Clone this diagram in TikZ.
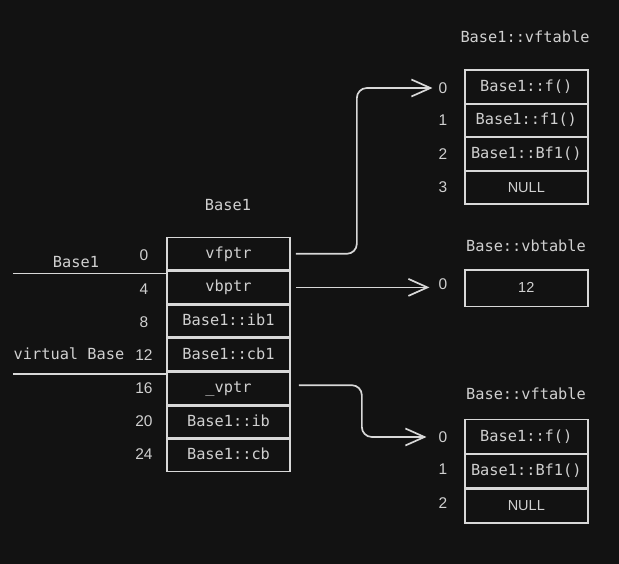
\documentclass[tikz,border=0pt]{standalone}
\usepackage{fontspec}
\setmainfont{Liberation Sans}
\newfontfamily\codefont{DejaVu Sans Mono}
\usetikzlibrary{arrows.meta}

\definecolor{bg}{HTML}{121212}
\definecolor{ink}{HTML}{D8D8D8}
\definecolor{txt}{HTML}{D0D0D0}

\tikzset{
  codetext/.style={text=txt, inner sep=0pt, font=\codefont\fontsize{15.3}{18}\selectfont},
  cell/.style={codetext, draw=ink, line width=1.7pt, minimum width=123pt,
    minimum height=#1, text height=11pt, text depth=2pt},
  cell/.default=32.3pt,
  sanscell/.style={cell=#1, font=\fontsize{14.5}{18}\selectfont},
  sanscell/.default=32.3pt,
  idx/.style={text=txt, inner sep=0pt, font=\fontsize{15.5}{18}\selectfont},
  title/.style={codetext},
  sepline/.style={draw=ink, line width=1.7pt},
  conn/.style={draw=ink, line width=1.7pt, rounded corners=10pt,
    -{Straight Barb[length=19pt, width=17pt]}}
}

\begin{document}
\begin{tikzpicture}[x=1pt, y=-1pt]
  % canvas
  \fill[bg] (0,0) rectangle (619,564);
  \useasboundingbox (0,0) rectangle (619,564);

  % ---- object layout of Base1 ----
  \node[title] (objtitle) at (228,205) {Base1};
  \node[cell] (vfptr) at (228.5,253.8) {vfptr};
  \node[cell] (vbptr) at (228.5,287.4) {vbptr};
  \node[cell] (ib1)   at (228.5,321.0) {Base1::ib1};
  \node[cell] (cb1)   at (228.5,354.6) {Base1::cb1};
  \node[cell] (vptr)  at (228.5,388.2) {\_vptr};
  \node[cell] (ib)    at (228.5,421.8) {Base1::ib};
  \node[cell] (cb)    at (228.5,455.4) {Base1::cb};

  % byte offsets
  \node[idx] (o0)  at (144,255) {0};
  \node[idx] (o4)  at (144,289) {4};
  \node[idx] (o8)  at (144,322.5) {8};
  \node[idx] (o12) at (144,355) {12};
  \node[idx] (o16) at (144,388.5) {16};
  \node[idx] (o20) at (144,421) {20};
  \node[idx] (o24) at (144,454.5) {24};

  % sub-object separators
  \coordinate (sepA) at (13,273.5);
  \coordinate (sepB) at (13,374);
  \draw[sepline] (sepA) -- (sepA -| vfptr.west);
  \draw[sepline] (sepB) -- (sepB -| vptr.west);
  \node[codetext] (lblBase1) at (76,262) {Base1};
  \node[codetext] (lblVirt)  at (69,354) {virtual Base};

  % ---- Base1::vftable ----
  \node[title] (vftitle) at (525,37) {Base1::vftable};
  \node[cell=33.3pt] (vfa) at (526.3,86.8)  {Base1::f()};
  \node[cell=33.3pt] (vfb) at (526.3,120.4) {Base1::f1()};
  \node[cell=33.3pt] (vfc) at (526.3,154.0) {Base1::Bf1()};
  \node[sanscell=33.3pt] (vfd) at (526.3,187.6) {NULL};
  \node[idx] (vf0) at (443,88)  {0};
  \node[idx] (vf1) at (443,120) {1};
  \node[idx] (vf2) at (443,154) {2};
  \node[idx] (vf3) at (443,187) {3};

  % ---- Base::vbtable ----
  \node[title] (vbtitle) at (526,246) {Base::vbtable};
  \node[sanscell=36.7pt] (vba) at (526.3,288.3) {12};
  \node[idx] (vb0) at (443,284) {0};

  % ---- Base::vftable ----
  \node[title] (bvtitle) at (526,394) {Base::vftable};
  \node[cell=34pt] (bva) at (526.3,436.6) {Base1::f()};
  \node[cell=34pt] (bvb) at (526.3,471.3) {Base1::Bf1()};
  \node[sanscell=34pt] (bvc) at (526.3,506.0) {NULL};
  \node[idx] (bv0) at (443,437) {0};
  \node[idx] (bv1) at (443,469) {1};
  \node[idx] (bv2) at (443,503) {2};

  % ---- pointers ----
  \draw[conn, shorten >=6pt] ([xshift=5pt]vfptr.east) -- ++(61pt,0) |- (vf0.west);
  \draw[conn, shorten >=9pt] ([xshift=5pt]vbptr.east) -- (vbptr.east -| vb0.west);
  \draw[conn, shorten >=12pt] ([xshift=8pt,yshift=3pt]vptr.east) -- ++(63pt,0) |- (bv0.west);
\end{tikzpicture}
\end{document}
